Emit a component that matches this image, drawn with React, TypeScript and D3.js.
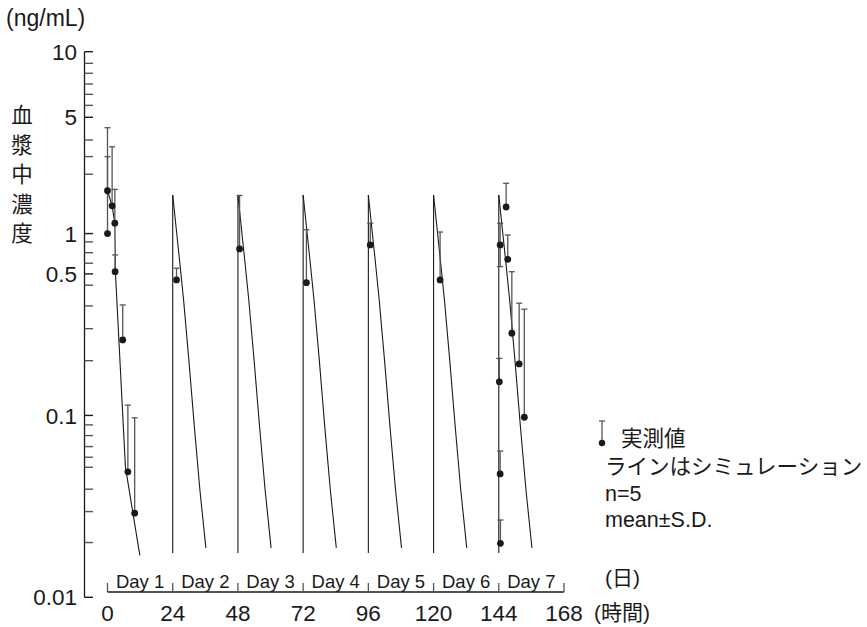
import React from "react";
import * as d3 from "d3";

// ---- axis ticks / labels ----
const xTickValues = [0, 24, 48, 72, 96, 120, 144, 168];
const dayLabels = ["Day 1", "Day 2", "Day 3", "Day 4", "Day 5", "Day 6", "Day 7"];
// major ticks as drawn in the reference (labels sit on these marks)
const yMajorTickValues = [10, 4.36, 1, 0.6, 0.1, 0.01];
const yMajorTickLabels = ["10", "5", "1", "0.5", "0.1", "0.01"];
const yMinorTickValues = [
  8.63, 7.61, 6.64, 5.83, 5.07, 3.27, 2.65, 2.12,
  0.9, 0.785, 0.687, 0.52, 0.4, 0.3, 0.2,
  0.0887, 0.0775, 0.0674, 0.0589, 0.0519, 0.0393, 0.0296, 0.02,
];

// ---- measured values (mean, upper SD end) ----
const day1Times = [0, 0, 1.7, 2.7, 2.8, 5.6, 7.5, 10.0];
const day1Means = [1.72, 1.0, 1.42, 1.14, 0.617, 0.26, 0.049, 0.029];
const day1Upper = [3.82, 2.65, 3.0, 1.75, 0.763, 0.405, 0.114, 0.097];

const midTimes = [25.4, 48.6, 73.2, 96.7, 122.4];
const midMeans = [0.556, 0.823, 0.537, 0.866, 0.556];
const midUpper = [0.645, 1.62, 1.05, 1.14, 1.02];

const day7Times = [144.5, 144.2, 144.5, 144.6, 146.7, 147.3, 148.8, 151.5, 153.4];
const day7Means = [0.866, 0.153, 0.0477, 0.0198, 1.4, 0.722, 0.283, 0.192, 0.0977];
const day7Upper = [1.14, 0.206, 0.0637, 0.0266, 1.89, 0.982, 0.617, 0.414, 0.384];
const day7Lower = [0.658, null, null, null, null, null, null, null, null];

// ---- simulation ----
const day1SimTimes = [0, 1.7, 2.7, 2.9, 6.6, 11.9];
const day1SimValues = [1.72, 1.42, 1.14, 0.617, 0.052, 0.017];
const doseTimes = [24, 48, 72, 96, 120, 144];
const simTrough = 0.0175;
const simDt = [0, 2, 4, 6, 8, 10, 12.2];
const simValues = [1.63, 0.844, 0.431, 0.197, 0.0854, 0.039, 0.0187];

const legendLines = ["ラインはシミュレーション", "n=5", "mean±S.D."];

const W = 867;
const H = 627;
const FONT = "'Liberation Sans', Arial, 'Noto Sans CJK JP', sans-serif";

export default function App() {
  const x = d3.scaleLinear().domain([0, 168]).range([107.5, 564]);
  const y = d3.scaleLog().domain([0.01, 10]).range([597.3, 51.7]);
  const axisX = 84.5;
  const xAxisY = 592;

  const line = d3
    .line<[number, number]>()
    .x((d) => x(d[0]))
    .y((d) => y(d[1]));
  const smooth = d3
    .line<[number, number]>()
    .x((d) => x(d[0]))
    .y((d) => y(d[1]))
    .curve(d3.curveMonotoneX);

  const simPaths: string[] = [];
  simPaths.push(line(day1SimTimes.map((t, i) => [t, day1SimValues[i]] as [number, number])) || "");
  doseTimes.forEach((dt0) => {
    simPaths.push(line([[dt0, simTrough], [dt0, simValues[0]]]) || "");
    simPaths.push(smooth(simDt.map((d, i) => [dt0 + d, simValues[i]] as [number, number])) || "");
  });

  type Pt = { t: number; m: number; u: number; l: number | null };
  const points: Pt[] = [];
  day1Times.forEach((t, i) => points.push({ t, m: day1Means[i], u: day1Upper[i], l: null }));
  midTimes.forEach((t, i) => points.push({ t, m: midMeans[i], u: midUpper[i], l: null }));
  day7Times.forEach((t, i) => points.push({ t, m: day7Means[i], u: day7Upper[i], l: day7Lower[i] }));

  const ink = "#1a1a1a";
  const grey = "#555";

  return (
    <svg
      width={W}
      height={H}
      viewBox={`0 0 ${W} ${H}`}
      style={{ position: "absolute", left: 0, top: 0, background: "#fff" }}
    >
      <rect x={0} y={0} width={W} height={H} fill="#fff" />

      {/* y axis */}
      <line x1={axisX} x2={axisX} y1={y(10)} y2={y(0.01)} stroke={ink} strokeWidth={1.3} />
      {yMajorTickValues.map((v, i) => (
        <g key={"ymaj" + i}>
          <line x1={axisX} x2={axisX + 8.5} y1={y(v)} y2={y(v)} stroke={ink} strokeWidth={1.4} />
          <text
            x={77}
            y={y(v)}
            dy="0.36em"
            textAnchor="end"
            fontFamily={FONT}
            fontSize={22.5}
            fill={ink}
          >
            {yMajorTickLabels[i]}
          </text>
        </g>
      ))}
      {yMinorTickValues.map((v, i) => (
        <line key={"ymin" + i} x1={axisX} x2={axisX + 8.5} y1={y(v)} y2={y(v)} stroke={grey} strokeWidth={1.4} />
      ))}

      {/* y titles */}
      <text x={6} y={26} fontFamily={FONT} fontSize={23} fill={ink}>
        (ng/mL)
      </text>
      {"血漿中濃度".split("").map((c, i) => (
        <text
          key={"yt" + i}
          x={22}
          y={123 + i * 29.5}
          textAnchor="middle"
          fontFamily={FONT}
          fontSize={21.5}
          fill={ink}
        >
          {c}
        </text>
      ))}

      {/* x axis */}
      <line x1={x(0)} x2={x(168)} y1={xAxisY} y2={xAxisY} stroke={ink} strokeWidth={1.3} />
      {xTickValues.map((t) => (
        <g key={"xt" + t}>
          <line x1={x(t)} x2={x(t)} y1={xAxisY} y2={xAxisY - 9} stroke={grey} strokeWidth={1.3} />
          <text x={x(t)} y={621} textAnchor="middle" fontFamily={FONT} fontSize={22.5} fill={ink}>
            {t}
          </text>
        </g>
      ))}
      {dayLabels.map((d, i) => (
        <text
          key={"day" + i}
          x={x(24 * i + 12)}
          y={588}
          textAnchor="middle"
          fontFamily={FONT}
          fontSize={18.5}
          fill={ink}
        >
          {d}
        </text>
      ))}
      <text x={605} y={585} fontFamily={FONT} fontSize={21} fill={ink}>
        (日)
      </text>
      <text x={594} y={620} fontFamily={FONT} fontSize={21} fill={ink}>
        (時間)
      </text>

      {/* simulation lines */}
      {simPaths.map((p, i) => (
        <path key={"sim" + i} d={p} fill="none" stroke={ink} strokeWidth={1.1} />
      ))}

      {/* error bars */}
      {points.map((p, i) => (
        <g key={"eb" + i} stroke={grey} strokeWidth={1.3}>
          <line x1={x(p.t)} x2={x(p.t)} y1={y(p.m)} y2={y(p.u)} />
          <line x1={x(p.t) - 3} x2={x(p.t) + 3} y1={y(p.u)} y2={y(p.u)} />
          {p.l !== null && (
            <>
              <line x1={x(p.t)} x2={x(p.t)} y1={y(p.m)} y2={y(p.l)} />
              <line x1={x(p.t) - 3} x2={x(p.t) + 3} y1={y(p.l)} y2={y(p.l)} />
            </>
          )}
        </g>
      ))}
      {/* points */}
      {points.map((p, i) => (
        <circle key={"pt" + i} cx={x(p.t)} cy={y(p.m)} r={3.4} fill={ink} />
      ))}

      {/* legend */}
      <g stroke={grey} strokeWidth={1.3}>
        <line x1={602} x2={602} y1={421} y2={443} />
        <line x1={599} x2={605} y1={421} y2={421} />
      </g>
      <circle cx={602} cy={443} r={3.2} fill={ink} />
      <text x={621} y={446} fontFamily={FONT} fontSize={21.5} fill={ink}>
        実測値
      </text>
      {legendLines.map((s, i) => (
        <text
          key={"lg" + i}
          x={605}
          y={474 + i * 26.5}
          fontFamily={FONT}
          fontSize={21.5}
          fill={ink}
        >
          {s}
        </text>
      ))}
    </svg>
  );
}
